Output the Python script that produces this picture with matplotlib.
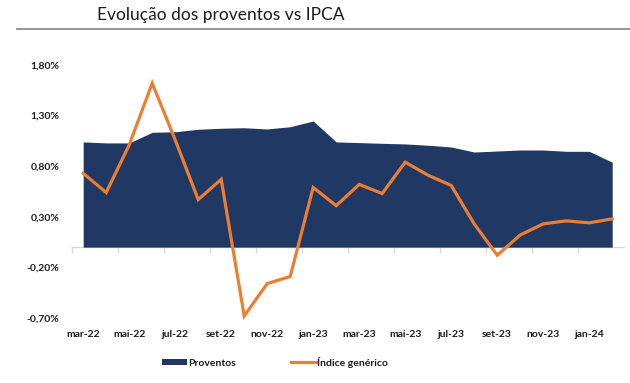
import matplotlib
matplotlib.use("Agg")
import matplotlib.pyplot as plt
from matplotlib.patches import Patch
from matplotlib.lines import Line2D
from matplotlib.transforms import blended_transform_factory
import matplotlib.ticker as mticker

plt.rcParams['font.family'] = ['Lato', 'DejaVu Sans']

months = ['mar-22', 'abr-22', 'mai-22', 'jun-22', 'jul-22', 'ago-22', 'set-22', 'out-22',
          'nov-22', 'dez-22', 'jan-23', 'fev-23', 'mar-23', 'abr-23', 'mai-23', 'jun-23',
          'jul-23', 'ago-23', 'set-23', 'out-23', 'nov-23', 'dez-23', 'jan-24', 'fev-24']
proventos = [1.04, 1.03, 1.03, 1.135, 1.14, 1.165, 1.175, 1.18, 1.168, 1.19, 1.247, 1.04,
             1.033, 1.026, 1.02, 1.007, 0.99, 0.94, 0.95, 0.96, 0.96, 0.947, 0.947, 0.84]
indice = [0.73, 0.54, 1.01, 1.62, 1.06, 0.47, 0.67, -0.68, -0.36, -0.29, 0.59, 0.41,
          0.62, 0.53, 0.84, 0.71, 0.61, 0.23, -0.08, 0.12, 0.23, 0.26, 0.24, 0.28]
yticks = [-0.7, -0.2, 0.3, 0.8, 1.3, 1.8]
title = 'Evolução dos proventos vs IPCA'
names = ['Proventos', 'Índice genérico']

navy = '#1F3864'
orange = '#ED7D31'

W, H = 630, 383
fig = plt.figure(figsize=(W / 100, H / 100), dpi=100)
left, right, top, bottom = 71.7, 623.7, 65, 318
ax = fig.add_axes([left / W, (H - bottom) / H, (right - left) / W, (bottom - top) / H])

x = list(range(len(months)))
ax.fill_between(x, 0, proventos, color=navy, linewidth=0, zorder=2)
ax.plot(x, indice, color=orange, linewidth=2.3, zorder=3, clip_on=False,
        solid_joinstyle='miter')

ax.set_xlim(-0.5, len(months) - 0.5)
ax.set_ylim(-0.7, 1.8)

for s in ['top', 'right', 'left']:
    ax.spines[s].set_visible(False)
ax.spines['bottom'].set_position(('data', 0))
ax.spines['bottom'].set_color('#d9d9d9')
ax.spines['bottom'].set_linewidth(1.0)
ax.spines['bottom'].set_zorder(1)

ax.set_yticks(yticks)
ax.yaxis.set_major_formatter(mticker.FuncFormatter(lambda v, p: f"{v:.2f}%".replace('.', ',')))
ax.tick_params(axis='y', length=0, pad=9, labelsize=7.5, labelcolor='#1a1a1a')
for lab in ax.get_yticklabels():
    lab.set_fontweight('bold')

ax.set_xticks([i - 0.5 for i in range(0, len(months), 2)])
ax.set_xticklabels([])
ax.tick_params(axis='x', length=4, color='#d9d9d9', width=1.0, direction='out')

trans = blended_transform_factory(ax.transData, ax.transAxes)
for i in range(0, len(months), 2):
    ax.text(i, -(334.5 - bottom) / (bottom - top), months[i], transform=trans,
            ha='center', va='center', fontsize=7.5, fontweight='bold', color='#1a1a1a')

# title and rule
fig.text(97 / W, 1 - 15 / H, title, ha='left', va='center', fontsize=12.5, color='#1a1a1a')
fig.add_artist(Line2D([17 / W, 1.0], [1 - 29 / H, 1 - 29 / H], transform=fig.transFigure,
                      color='#8c8c8c', linewidth=1.3))

handles = [Patch(facecolor=navy, edgecolor='none'),
           Line2D([0], [0], color=orange, linewidth=2.3)]
leg = fig.legend(handles, names, loc='center', bbox_to_anchor=(275 / W, 1 - 362 / H),
                 ncol=2, frameon=False, fontsize=7.5, handlelength=2.4, handleheight=0.6,
                 handletextpad=0.15, columnspacing=5.2)
for t in leg.get_texts():
    t.set_fontweight('bold')
    t.set_color('#1a1a1a')

fig.savefig('out.png', dpi=100)
